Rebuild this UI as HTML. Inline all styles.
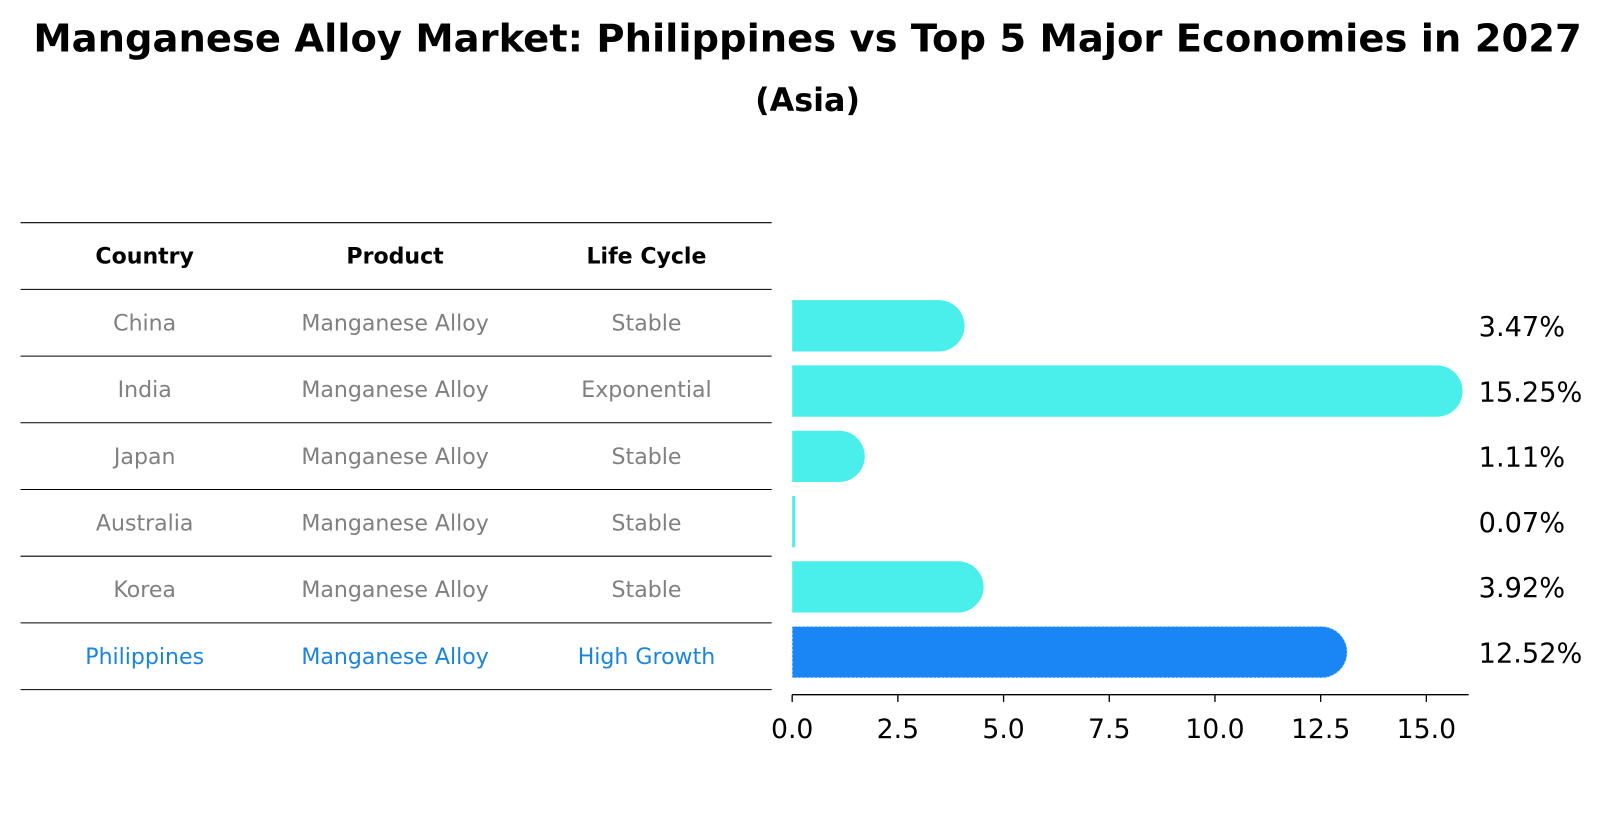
<!DOCTYPE html>
<html><head><meta charset="utf-8"><style>
body{margin:0;background:#fff;font-family:"Liberation Sans","DejaVu Sans",sans-serif}
</style></head><body>
<svg width="1609" height="823" viewBox="0 0 1568 802" preserveAspectRatio="none" xmlns="http://www.w3.org/2000/svg" font-family="DejaVu Sans, Liberation Sans, sans-serif">
<text x="787" y="50" text-anchor="middle" font-size="37.5" font-weight="bold">Manganese Alloy Market: Philippines vs Top 5 Major Economies in 2027</text>
<text x="787" y="108" text-anchor="middle" font-size="31" font-weight="bold">(Asia)</text>
<g id="table"></g>
<g id="bars"></g>
</svg>
<script>
const countries=["China","India","Japan","Australia","Korea","Philippines"];
const products=["Manganese Alloy","Manganese Alloy","Manganese Alloy","Manganese Alloy","Manganese Alloy","Manganese Alloy"];
const lifecycle=["Stable","Exponential","Stable","Stable","Stable","High Growth"];
const values=[3.47,15.25,1.11,0.07,3.92,12.52];
const ticks=[0,2.5,5,7.5,10,12.5,15];
const NS="http://www.w3.org/2000/svg";
function mk(t,a,p){const e=document.createElementNS(NS,t);for(const k in a)e.setAttribute(k,a[k]);p.appendChild(e);return e;}
const tb=document.getElementById('table');
const lineYs=[217,282,347,412,477,542,607,672];
lineYs.forEach((y,i)=>{const l=mk('line',{x1:20,x2:752,y1:y,y2:y,stroke:'#000','stroke-width':1},tb);

});
const cx=[141,385,630];
["Country","Product","Life Cycle"].forEach((h,j)=>{const t=mk('text',{x:cx[j],y:257,'text-anchor':'middle','font-size':21.5,'font-weight':'bold'},tb);t.textContent=h;

});
countries.forEach((c,i)=>{const y=322+i*65;const col=i===5?'#1a85e0':'#808080';
[c,products[i],lifecycle[i]].forEach((v,j)=>{const t=mk('text',{x:cx[j],y:y,'text-anchor':'middle','font-size':21.5,fill:col},tb);t.textContent=v;

});});
const bg=document.getElementById('bars');
const x0=772,ppu=41.2;const X=v=>x0+v*ppu;
const rowY=i=>317.5+i*63.6;const bh=50,r=25;
values.forEach((v,i)=>{const yc=rowY(i);const xe=X(v);const col=i===5?'#1a85f5':'#4aeeea';
let d;
if(v*ppu<r){d=`M${x0},${yc-bh/2}H${Math.max(xe,x0+2)}V${yc+bh/2}H${x0}Z`;}
else d=`M${x0},${yc-bh/2}H${xe}A${r},${r} 0 0 1 ${xe},${yc+bh/2}H${x0}Z`;
const p=mk('path',{d:d,fill:col},bg);
if(i===5){p.setAttribute('stroke','#cfe6ff');p.setAttribute('stroke-dasharray','2 2');p.setAttribute('stroke-width','1');}


const t=mk('text',{x:1441,y:yc+10,'font-size':26.5},bg);t.textContent=v.toFixed(2)+'%';

});
const ax=mk('line',{x1:x0,x2:X(16),y1:677,y2:677,stroke:'#000','stroke-width':1.3},bg);


ticks.forEach(v=>{const l=mk('line',{x1:X(v),x2:X(v),y1:677,y2:684,stroke:'#000','stroke-width':1.3},bg);


const t=mk('text',{x:X(v),y:719,'text-anchor':'middle','font-size':26},bg);t.textContent=v.toFixed(1);

});
</script>
</body></html>
